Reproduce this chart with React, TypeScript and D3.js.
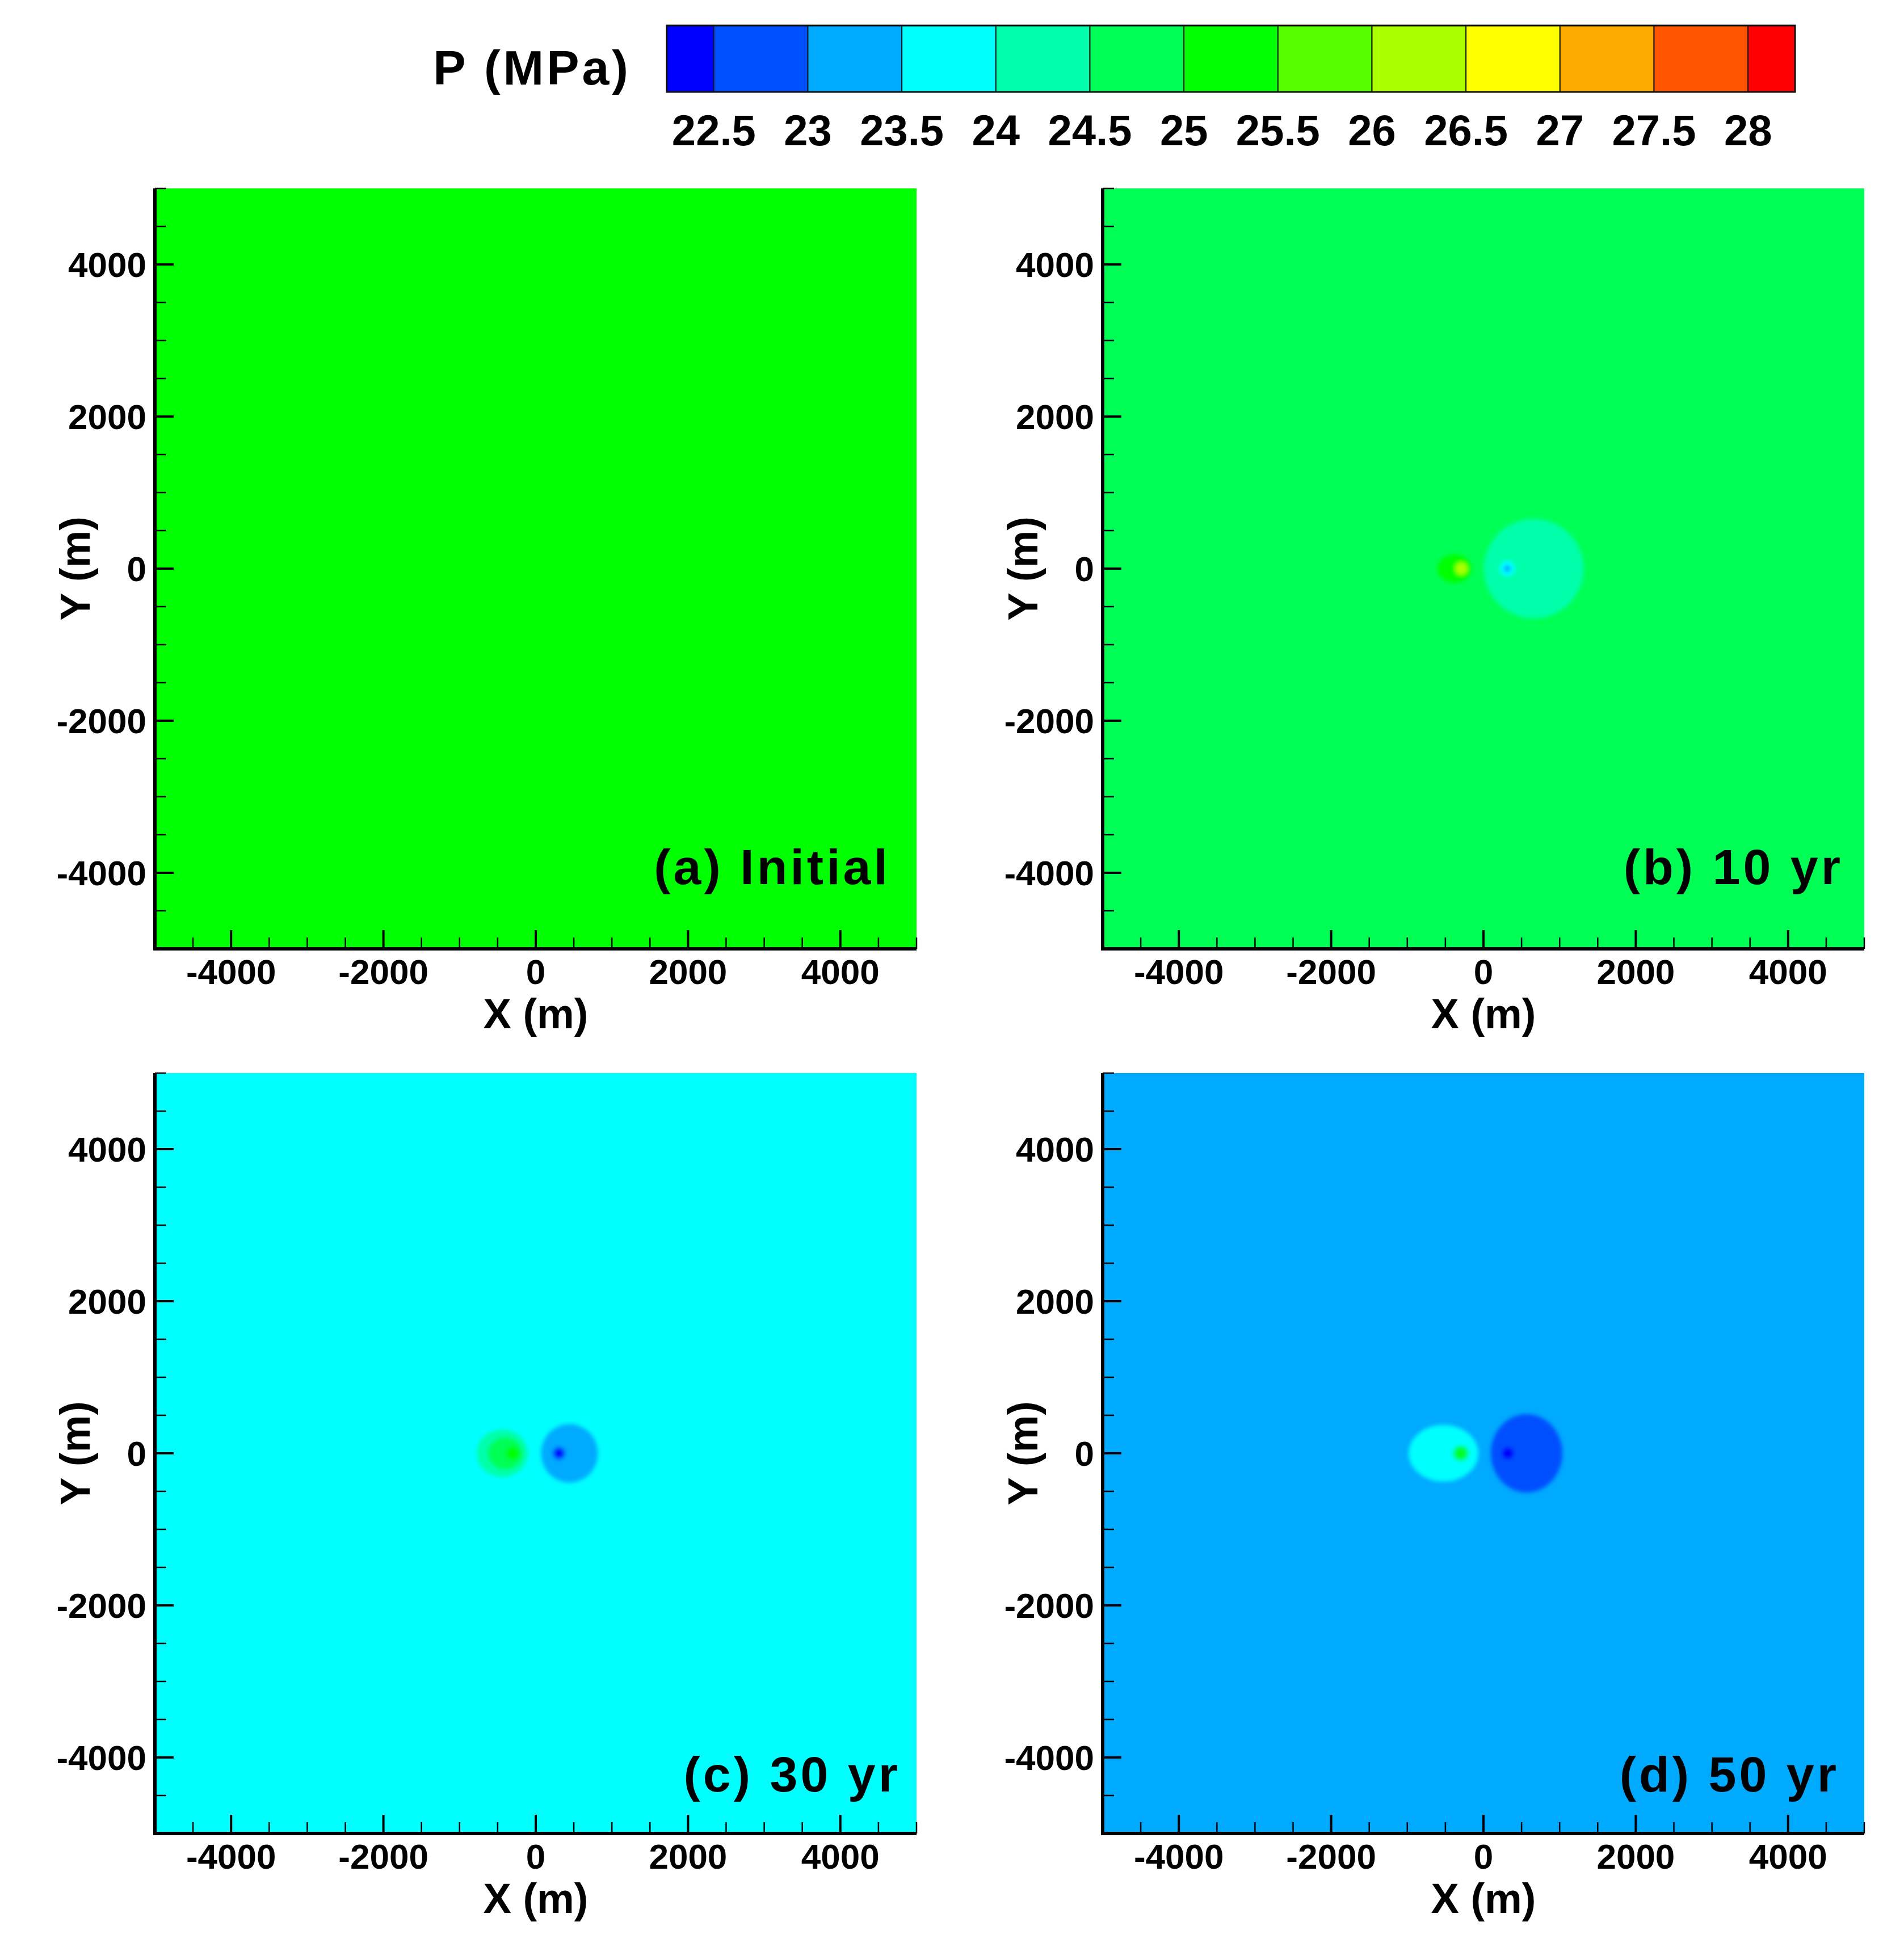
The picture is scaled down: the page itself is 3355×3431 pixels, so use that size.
import React, { useEffect, useRef } from "react";
import * as d3 from "d3";

const WIDTH = 3355;
const HEIGHT = 3431;

// contour levels of the legend (MPa) and the colour of each band
const levels = [22.5, 23, 23.5, 24, 24.5, 25, 25.5, 26, 26.5, 27, 27.5, 28];
const levelColors = [
  "#0000FF", "#0050FF", "#00AAFF", "#00FFFF", "#00FFAA", "#00FF55", "#00FF00",
  "#55FF00", "#AAFF00", "#FFFF00", "#FFAA00", "#FF5500", "#FF0000",
];
const legendExtent = [22.25, 28.25];

const majorTicks = [-4000, -2000, 0, 2000, 4000];
const minorTicks = [
  -5000, -4500, -3500, -3000, -2500, -1500, -1000, -500, 500, 1000, 1500,
  2500, 3000, 3500, 4500, 5000,
];
const domainM = [-5000, 5000];

const panelTitles = ["(a) Initial", "(b) 10 yr", "(c) 30 yr", "(d) 50 yr"];

// far-field pressure of each snapshot (MPa)
const backgroundP = [25.2, 24.8, 23.8, 23.2];

// pressure zones around injector (x < 0) and producer (x > 0): centre, radii in metres, pressure in MPa
const zonesA: { x: number; y: number; rx: number; ry: number; p: number }[] = [];
const zonesB = [
  { x: 660, y: 0, rx: 655, ry: 655, p: 24.3 },
  { x: 313, y: 0, rx: 100, ry: 100, p: 23.8 },
  { x: 313, y: 0, rx: 45, ry: 45, p: 23.3 },
  { x: -380, y: 0, rx: 224, ry: 186, p: 25.2 },
  { x: -290, y: 0, rx: 80, ry: 80, p: 26.2 },
];
const zonesC = [
  { x: -440, y: 0, rx: 335, ry: 313, p: 24.3 },
  { x: -400, y: 0, rx: 230, ry: 215, p: 24.7 },
  { x: -305, y: 0, rx: 90, ry: 90, p: 25.2 },
  { x: 443, y: 0, rx: 372, ry: 384, p: 23.2 },
  { x: 305, y: 0, rx: 85, ry: 85, p: 22.7 },
  { x: 305, y: 0, rx: 60, ry: 60, p: 22.3 },
];
const zonesD = [
  { x: -525, y: 0, rx: 458, ry: 373, p: 23.8 },
  { x: -298, y: 0, rx: 105, ry: 105, p: 24.7 },
  { x: -298, y: 0, rx: 55, ry: 55, p: 25.2 },
  { x: 566, y: 0, rx: 470, ry: 514, p: 22.7 },
  { x: 320, y: 0, rx: 80, ry: 80, p: 22.3 },
];
const panelZones = [zonesA, zonesB, zonesC, zonesD];

// page layout (pixels)
const panelLayout = [
  { left: 273, top: 332, labelRight: 46, labelBottom: 114 },
  { left: 1943, top: 332, labelRight: 37, labelBottom: 114 },
  { left: 273, top: 1891, labelRight: 28, labelBottom: 74 },
  { left: 1943, top: 1891, labelRight: 44, labelBottom: 74 },
];
const PW = 1342;
const PH = 1340;
const FONT = "'Liberation Sans', Arial, Helvetica, sans-serif";

const App = () => {
  const svgRef = useRef<SVGSVGElement>(null);

  useEffect(() => {
    const svg = d3.select(svgRef.current);
    svg.selectAll("*").remove();

    const color = d3
      .scaleThreshold<number, string>()
      .domain(levels)
      .range(levelColors);

    const defs = svg.append("defs");
    defs
      .append("filter")
      .attr("id", "soft")
      .attr("x", "-50%")
      .attr("y", "-50%")
      .attr("width", "200%")
      .attr("height", "200%")
      .append("feGaussianBlur")
      .attr("stdDeviation", 3.5);

    // ---- colour legend
    const legX = d3.scaleLinear().domain(legendExtent).range([1175, 3163]);
    const bounds = [legendExtent[0], ...levels, legendExtent[1]];
    const leg = svg.append("g");
    leg
      .selectAll("rect.band")
      .data(levelColors)
      .join("rect")
      .attr("class", "band")
      .attr("x", (_, i) => legX(bounds[i]))
      .attr("width", (_, i) => legX(bounds[i + 1]) - legX(bounds[i]))
      .attr("y", 45)
      .attr("height", 117)
      .attr("fill", (d) => d)
      .attr("stroke", "#1a1a1a")
      .attr("stroke-width", 2);
    leg
      .append("rect")
      .attr("x", legX(legendExtent[0]))
      .attr("y", 45)
      .attr("width", legX(legendExtent[1]) - legX(legendExtent[0]))
      .attr("height", 117)
      .attr("fill", "none")
      .attr("stroke", "#111")
      .attr("stroke-width", 3);
    leg
      .selectAll("text.lvl")
      .data(levels)
      .join("text")
      .attr("class", "lvl")
      .attr("x", (d) => legX(d))
      .attr("y", 256)
      .attr("text-anchor", "middle")
      .attr("font-family", FONT)
      .attr("font-weight", "bold")
      .attr("font-size", 76)
      .text((d) => d3.format("")(d));
    leg
      .append("text")
      .attr("x", 1112)
      .attr("y", 149)
      .attr("text-anchor", "end")
      .attr("font-family", FONT)
      .attr("font-weight", "bold")
      .attr("font-size", 86)
      .attr("letter-spacing", 5)
      .text("P (MPa)");

    // ---- four snapshots
    panelLayout.forEach((lay, k) => {
      const x = d3.scaleLinear().domain(domainM).range([lay.left, lay.left + PW]);
      const y = d3.scaleLinear().domain(domainM).range([lay.top + PH, lay.top]);
      const g = svg.append("g");

      defs
        .append("clipPath")
        .attr("id", `clip${k}`)
        .append("rect")
        .attr("x", lay.left)
        .attr("y", lay.top)
        .attr("width", PW)
        .attr("height", PH);

      const field = g.append("g").attr("clip-path", `url(#clip${k})`);
      field
        .append("rect")
        .attr("x", lay.left)
        .attr("y", lay.top)
        .attr("width", PW)
        .attr("height", PH)
        .attr("fill", color(backgroundP[k]));

      field
        .append("g")
        .attr("filter", "url(#soft)")
        .selectAll("ellipse")
        .data(panelZones[k])
        .join("ellipse")
        .attr("cx", (d) => x(d.x))
        .attr("cy", (d) => y(d.y))
        .attr("rx", (d) => x(d.rx) - x(0))
        .attr("ry", (d) => y(0) - y(d.ry))
        .attr("fill", (d) => color(d.p));

      // ticks point inward
      const axisG = g.append("g").attr("stroke", "#000");
      axisG
        .selectAll("line.xmaj")
        .data(majorTicks)
        .join("line")
        .attr("x1", (d) => x(d))
        .attr("x2", (d) => x(d))
        .attr("y1", lay.top + PH)
        .attr("y2", lay.top + PH - 33)
        .attr("stroke-width", 4);
      axisG
        .selectAll("line.xmin")
        .data(minorTicks)
        .join("line")
        .attr("x1", (d) => x(d))
        .attr("x2", (d) => x(d))
        .attr("y1", lay.top + PH)
        .attr("y2", lay.top + PH - 20)
        .attr("stroke-width", 2.5);
      axisG
        .selectAll("line.ymaj")
        .data(majorTicks)
        .join("line")
        .attr("y1", (d) => y(d))
        .attr("y2", (d) => y(d))
        .attr("x1", lay.left)
        .attr("x2", lay.left + 33)
        .attr("stroke-width", 4);
      axisG
        .selectAll("line.ymin")
        .data(minorTicks)
        .join("line")
        .attr("y1", (d) => y(d))
        .attr("y2", (d) => y(d))
        .attr("x1", lay.left)
        .attr("x2", lay.left + 20)
        .attr("stroke-width", 2.5);
      axisG
        .append("path")
        .attr("d", `M${lay.left},${lay.top}V${lay.top + PH}H${lay.left + PW}`)
        .attr("fill", "none")
        .attr("stroke-width", 6);

      const txt = g
        .append("g")
        .attr("font-family", FONT)
        .attr("font-weight", "bold")
        .attr("fill", "#000");
      txt
        .selectAll("text.xt")
        .data(majorTicks)
        .join("text")
        .attr("x", (d) => x(d))
        .attr("y", lay.top + PH + 62)
        .attr("text-anchor", "middle")
        .attr("font-size", 62)
        .text((d) => String(d));
      txt
        .selectAll("text.yt")
        .data(majorTicks)
        .join("text")
        .attr("x", lay.left - 15)
        .attr("y", (d) => y(d))
        .attr("dy", "0.36em")
        .attr("text-anchor", "end")
        .attr("font-size", 62)
        .text((d) => String(d));
      txt
        .append("text")
        .attr("x", x(0))
        .attr("y", lay.top + PH + 140)
        .attr("text-anchor", "middle")
        .attr("font-size", 74)
        .text("X (m)");
      txt
        .append("text")
        .attr("transform", `translate(${lay.left - 115},${y(0)}) rotate(-90)`)
        .attr("text-anchor", "middle")
        .attr("font-size", 74)
        .text("Y (m)");
      txt
        .append("text")
        .attr("x", lay.left + PW - lay.labelRight)
        .attr("y", lay.top + PH - lay.labelBottom)
        .attr("text-anchor", "end")
        .attr("font-size", 88)
        .attr("letter-spacing", 5)
        .text(panelTitles[k]);
    });
  }, []);

  return (
    <svg
      ref={svgRef}
      width={WIDTH}
      height={HEIGHT}
      style={{ position: "absolute", left: 0, top: 0, background: "#fff" }}
    />
  );
};

export default App;
